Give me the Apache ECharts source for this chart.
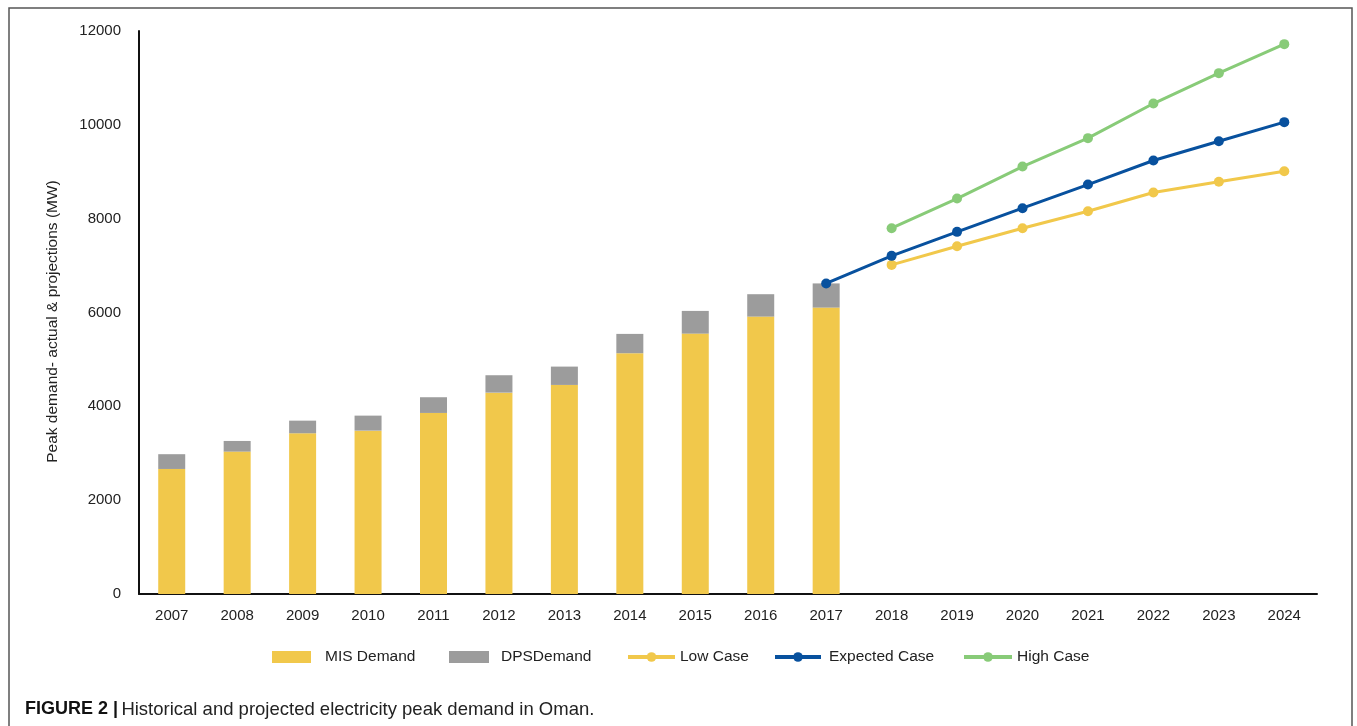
<!DOCTYPE html>
<html>
<head>
<meta charset="utf-8">
<title>Peak demand in Oman</title>
<script src="https://cdn.jsdelivr.net/npm/echarts@6/dist/echarts.min.js"></script>
<style>
  html, body { margin: 0; padding: 0; background: #fff; }
  #chart { width: 1357px; height: 726px; }
</style>
</head>
<body>
<div id="chart"></div>
<script>
// Years on the category axis
const years = ['2007','2008','2009','2010','2011','2012','2013','2014','2015','2016','2017',
               '2018','2019','2020','2021','2022','2023','2024'];

// Historical peak demand (MW), stacked bars
const misDemand = [2665, 3035, 3426, 3482, 3859, 4292, 4456, 5132, 5550, 5913, 6105,
                   null, null, null, null, null, null, null];
const dpsDemand = [315, 227, 269, 320, 335, 371, 391, 412, 484, 477, 515,
                   null, null, null, null, null, null, null];

// Projections (MW)
const lowCase      = [null, null, null, null, null, null, null, null, null, null, null,
                      7015, 7413, 7797, 8159, 8557, 8785, 9012];
const expectedCase = [null, null, null, null, null, null, null, null, null, null, 6620,
                      7207, 7719, 8223, 8727, 9240, 9651, 10057];
const highCase     = [null, null, null, null, null, null, null, null, null, null, null,
                      7797, 8429, 9111, 9716, 10454, 11102, 11720];

const FONT = 'Liberation Sans, Arial, sans-serif';
const C_YELLOW = '#F1C84B';
const C_GRAY = '#9C9C9C';
const C_BLUE = '#08519E';
const C_GREEN = '#88CB78';

const chart = echarts.init(document.getElementById('chart'), null, { renderer: 'canvas' });

// one legend block per entry so each sits where it belongs
function legendItem(name, left, width, textGap, icon) {
  const entry = icon ? { name: name, icon: icon } : { name: name };
  return {
    data: [entry],
    left: left,
    top: 649,
    padding: 0,
    itemWidth: width,
    itemHeight: 12,
    itemGap: 0,
    lineStyle: { width: 4 },
    textStyle: { fontFamily: FONT, fontSize: 15.5, color: '#222', padding: [0, 0, 0, textGap] },
    selectedMode: false
  };
}

function lineSeries(name, data, color) {
  return {
    name: name,
    type: 'line',
    data: data,
    connectNulls: false,
    symbol: 'circle',
    symbolSize: 10,
    lineStyle: { width: 3, color: color },
    itemStyle: { color: color },
    z: 5
  };
}

chart.setOption({
  animation: false,
  graphic: [
    {
      // figure frame
      type: 'rect',
      shape: { x: 9, y: 8, width: 1343, height: 740 },
      style: { fill: 'none', stroke: '#555', lineWidth: 1.5 },
      silent: true
    },
    {
      // caption
      type: 'text',
      left: 25,
      top: 700,
      style: {
        text: '{b|FIGURE 2 |} {n|Historical and projected electricity peak demand in Oman.}',
        rich: {
          b: { fontFamily: FONT, fontWeight: 'bold', fontSize: 18, fill: '#111' },
          n: { fontFamily: FONT, fontWeight: 'normal', fontSize: 18.5, fill: '#222' }
        }
      },
      silent: true
    }
  ],
  legend: [
    legendItem('MIS Demand', 272, 39, 9, 'rect'),
    legendItem('DPSDemand', 449, 40, 7, 'rect'),
    legendItem('Low Case', 626, 47, 0),
    legendItem('Expected Case', 773, 46, 3),
    legendItem('High Case', 962, 48, 0)
  ],
  grid: { left: 139, right: 40, top: 31, bottom: 132, containLabel: false },
  xAxis: {
    type: 'category',
    data: years,
    boundaryGap: true,
    axisLine: { lineStyle: { color: '#111', width: 2 } },
    axisTick: { show: false },
    axisLabel: { fontFamily: FONT, fontSize: 15, color: '#222', margin: 14 }
  },
  yAxis: {
    type: 'value',
    min: 0,
    max: 12000,
    interval: 2000,
    name: 'Peak demand- actual & projections (MW)',
    nameLocation: 'middle',
    nameGap: 78,
    nameTextStyle: { fontFamily: FONT, fontSize: 15.5, color: '#222', padding: [0, 18, 0, 0] },
    axisLine: { show: true, lineStyle: { color: '#111', width: 2 } },
    axisTick: { show: false },
    splitLine: { show: false },
    axisLabel: {
      fontFamily: FONT, fontSize: 15, color: '#222', margin: 18,
      formatter: function (v) { return String(v); }
    }
  },
  series: [
    {
      name: 'MIS Demand',
      type: 'bar',
      stack: 'demand',
      data: misDemand,
      barWidth: 27,
      itemStyle: { color: C_YELLOW }
    },
    {
      name: 'DPSDemand',
      type: 'bar',
      stack: 'demand',
      data: dpsDemand,
      barWidth: 27,
      itemStyle: { color: C_GRAY }
    },
    lineSeries('Low Case', lowCase, C_YELLOW),
    lineSeries('Expected Case', expectedCase, C_BLUE),
    lineSeries('High Case', highCase, C_GREEN)
  ]
});
</script>
</body>
</html>
